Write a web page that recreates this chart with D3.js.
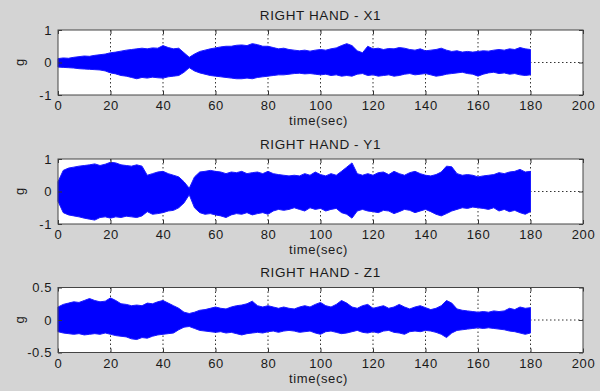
<!DOCTYPE html>
<html>
<head>
<meta charset="utf-8">
<script src="https://cdn.jsdelivr.net/npm/d3@7"></script>
<style>
  html, body { margin: 0; padding: 0; background: #d4d4d4; }
  svg { display: block; font-family: "Liberation Sans", Arial, sans-serif; }
</style>
</head>
<body>
<div id="chart"></div>
<script>
// sample times (sec) for the envelope readings
const times = [
  0, 2, 4, 6, 8, 10, 12, 14, 16, 18,
  20, 22, 24, 26, 28, 30, 32, 34, 36, 38,
  40, 42, 44, 46, 48, 50, 52, 54, 56, 58,
  60, 62, 64, 66, 68, 70, 72, 74, 76, 78,
  80, 82, 84, 86, 88, 90, 92, 94, 96, 98,
  100, 102, 104, 106, 108, 110, 112, 114, 116, 118,
  120, 122, 124, 126, 128, 130, 132, 134, 136, 138,
  140, 142, 144, 146, 148, 150, 152, 154, 156, 158,
  160, 162, 164, 166, 168, 170, 172, 174, 176, 178,
  180
];

// signal envelopes (g)
const x1Upper = [
  0.12, 0.14, 0.13, 0.16, 0.18, 0.20, 0.19, 0.22, 0.24, 0.26,
  0.30, 0.32, 0.35, 0.38, 0.40, 0.42, 0.44, 0.42, 0.45, 0.44,
  0.52, 0.46, 0.42, 0.44, 0.30, 0.16, 0.26, 0.34, 0.38, 0.42,
  0.45, 0.48, 0.50, 0.50, 0.53, 0.54, 0.52, 0.58, 0.55, 0.50,
  0.50, 0.46, 0.42, 0.44, 0.40, 0.38, 0.36, 0.38, 0.35, 0.38,
  0.40, 0.38, 0.42, 0.45, 0.52, 0.58, 0.52, 0.36, 0.30, 0.50,
  0.42, 0.44, 0.40, 0.43, 0.42, 0.46, 0.44, 0.40, 0.38, 0.42,
  0.36, 0.38, 0.40, 0.44, 0.38, 0.34, 0.36, 0.32, 0.34, 0.32,
  0.34, 0.36, 0.35, 0.38, 0.40, 0.38, 0.42, 0.40, 0.46, 0.42,
  0.40
];
const x1Lower = [
  -0.14, -0.15, -0.16, -0.17, -0.19, -0.20, -0.21, -0.22, -0.23, -0.26,
  -0.32, -0.35, -0.40, -0.42, -0.46, -0.50, -0.46, -0.48, -0.45, -0.47,
  -0.48, -0.44, -0.42, -0.40, -0.30, -0.16, -0.26, -0.32, -0.36, -0.40,
  -0.42, -0.44, -0.46, -0.48, -0.50, -0.50, -0.48, -0.50, -0.46, -0.44,
  -0.42, -0.40, -0.38, -0.38, -0.36, -0.34, -0.33, -0.35, -0.34, -0.36,
  -0.38, -0.36, -0.40, -0.38, -0.42, -0.40, -0.42, -0.36, -0.34, -0.40,
  -0.38, -0.42, -0.40, -0.38, -0.42, -0.40, -0.36, -0.34, -0.38, -0.36,
  -0.34, -0.38, -0.42, -0.40, -0.36, -0.34, -0.32, -0.30, -0.34, -0.36,
  -0.42, -0.36, -0.32, -0.30, -0.34, -0.32, -0.36, -0.34, -0.38, -0.40,
  -0.38
];
const y1Upper = [
  0.30, 0.65, 0.72, 0.75, 0.78, 0.80, 0.82, 0.85, 0.80, 0.84,
  0.90, 0.88, 0.82, 0.80, 0.78, 0.82, 0.78, 0.50, 0.55, 0.60,
  0.62, 0.55, 0.50, 0.45, 0.30, 0.10, 0.45, 0.60, 0.62, 0.65,
  0.62, 0.60, 0.55, 0.60, 0.58, 0.62, 0.55, 0.58, 0.60, 0.55,
  0.62, 0.55, 0.52, 0.50, 0.48, 0.50, 0.48, 0.55, 0.50, 0.60,
  0.52, 0.48, 0.55, 0.50, 0.62, 0.75, 0.88, 0.55, 0.50, 0.55,
  0.50, 0.58, 0.60, 0.52, 0.62, 0.55, 0.50, 0.58, 0.62, 0.55,
  0.50, 0.48, 0.52, 0.60, 0.78, 0.76, 0.55, 0.50, 0.52, 0.50,
  0.45, 0.48, 0.50, 0.52, 0.58, 0.55, 0.60, 0.62, 0.68, 0.60,
  0.62
];
const y1Lower = [
  -0.30, -0.65, -0.72, -0.75, -0.78, -0.82, -0.85, -0.88, -0.80, -0.78,
  -0.82, -0.78, -0.80, -0.76, -0.78, -0.80, -0.75, -0.62, -0.70, -0.68,
  -0.65, -0.60, -0.58, -0.50, -0.35, -0.10, -0.50, -0.65, -0.70, -0.68,
  -0.72, -0.75, -0.80, -0.72, -0.68, -0.70, -0.65, -0.72, -0.68, -0.65,
  -0.70, -0.60, -0.55, -0.58, -0.55, -0.50, -0.55, -0.60, -0.50, -0.55,
  -0.52, -0.60, -0.55, -0.52, -0.65, -0.70, -0.82, -0.60, -0.55, -0.60,
  -0.62, -0.65, -0.58, -0.60, -0.68, -0.62, -0.55, -0.58, -0.65, -0.60,
  -0.55, -0.62, -0.70, -0.75, -0.68, -0.60, -0.55, -0.50, -0.52, -0.48,
  -0.50, -0.52, -0.55, -0.50, -0.60, -0.55, -0.62, -0.58, -0.65, -0.70,
  -0.62
];
const z1Upper = [
  0.20, 0.24, 0.26, 0.28, 0.27, 0.30, 0.33, 0.30, 0.28, 0.29,
  0.34, 0.30, 0.25, 0.24, 0.22, 0.23, 0.22, 0.26, 0.25, 0.28,
  0.30, 0.26, 0.22, 0.18, 0.12, 0.10, 0.12, 0.15, 0.16, 0.18,
  0.20, 0.18, 0.17, 0.20, 0.22, 0.23, 0.25, 0.29, 0.22, 0.20,
  0.22, 0.20, 0.18, 0.20, 0.18, 0.17, 0.20, 0.22, 0.20, 0.24,
  0.27, 0.22, 0.20, 0.24, 0.30, 0.26, 0.20, 0.18, 0.22, 0.24,
  0.18, 0.20, 0.22, 0.18, 0.20, 0.24, 0.20, 0.17, 0.20, 0.22,
  0.19, 0.16, 0.18, 0.22, 0.30, 0.26, 0.17, 0.15, 0.14, 0.13,
  0.12, 0.13, 0.12, 0.14, 0.13, 0.14, 0.18, 0.16, 0.20, 0.18,
  0.19
];
const z1Lower = [
  -0.18, -0.20, -0.21, -0.22, -0.21, -0.23, -0.22, -0.21, -0.22, -0.20,
  -0.22, -0.24, -0.25, -0.26, -0.29, -0.30, -0.27, -0.28, -0.25, -0.23,
  -0.22, -0.21, -0.20, -0.15, -0.11, -0.10, -0.13, -0.16, -0.17, -0.18,
  -0.19, -0.18, -0.20, -0.19, -0.21, -0.23, -0.21, -0.20, -0.19, -0.20,
  -0.18, -0.17, -0.19, -0.17, -0.16, -0.17, -0.19, -0.18, -0.17, -0.20,
  -0.22, -0.18, -0.17, -0.19, -0.21, -0.20, -0.18, -0.16, -0.19, -0.20,
  -0.18, -0.20, -0.17, -0.16, -0.19, -0.20, -0.22, -0.18, -0.17, -0.18,
  -0.16, -0.17, -0.19, -0.22, -0.27, -0.20, -0.16, -0.15, -0.14, -0.13,
  -0.12, -0.13, -0.12, -0.13, -0.14, -0.15, -0.17, -0.18, -0.20, -0.22,
  -0.20
];

const titles = ['RIGHT HAND - X1', 'RIGHT HAND - Y1', 'RIGHT HAND - Z1'];
const xTicks = [0, 20, 40, 60, 80, 100, 120, 140, 160, 180, 200];
const yTicksXY = [-1, 0, 1];
const yTicksZ = [-0.5, 0, 0.5];
const xLabel = 'time(sec)';
const yLabel = 'g';

const panels = [
  { title: titles[0], upper: x1Upper, lower: x1Lower, yTicks: yTicksXY, top: 30 },
  { title: titles[1], upper: y1Upper, lower: y1Lower, yTicks: yTicksXY, top: 159 },
  { title: titles[2], upper: z1Upper, lower: z1Lower, yTicks: yTicksZ, top: 287.5 }
];

const width = 600, height = 391;
const left = 58, plotW = 525, plotH = 65;
const textColor = '#1a1a1a';
const fontSize = 13;

const svg = d3.select('#chart')
  .append('svg')
    .attr('width', width)
    .attr('height', height);

svg.append('rect')
  .attr('width', width)
  .attr('height', height)
  .attr('fill', '#d4d4d4');

const x = d3.scaleLinear().domain([0, 200]).range([0, plotW]);

panels.forEach(p => {
  const lim = d3.max(p.yTicks);
  const y = d3.scaleLinear().domain([-lim, lim]).range([plotH, 0]);

  const g = svg.append('g').attr('transform', `translate(${left},${p.top})`);

  g.append('rect')
    .attr('width', plotW)
    .attr('height', plotH)
    .attr('fill', '#fff');

  // dotted grid
  g.selectAll('.vgrid')
    .data(xTicks.slice(1, -1))
    .enter().append('line')
      .attr('x1', d => x(d)).attr('x2', d => x(d))
      .attr('y1', 0).attr('y2', plotH)
      .attr('stroke', '#333')
      .attr('stroke-width', 1)
      .attr('stroke-dasharray', '1.5,2.5');
  g.selectAll('.hgrid')
    .data(p.yTicks.slice(1, -1))
    .enter().append('line')
      .attr('x1', 0).attr('x2', plotW)
      .attr('y1', d => y(d)).attr('y2', d => y(d))
      .attr('stroke', '#333')
      .attr('stroke-width', 1)
      .attr('stroke-dasharray', '1.5,2.5');

  // signal band
  const series = times.map((t, i) => ({ t, hi: p.upper[i], lo: p.lower[i] }));
  const area = d3.area()
    .x(d => x(d.t))
    .y0(d => y(d.lo))
    .y1(d => y(d.hi));
  g.append('path')
    .datum(series)
    .attr('fill', '#0000ff')
    .attr('stroke', '#1a1aff')
    .attr('stroke-width', 1)
    .attr('stroke-linejoin', 'round')
    .attr('d', area);

  // axes, ticks pointing inward
  const styleAxis = sel => {
    sel.select('.domain').remove();
    sel.selectAll('line').attr('stroke', '#333');
    sel.selectAll('text')
      .attr('fill', textColor)
      .style('font-size', fontSize + 'px')
      .style('letter-spacing', '0.6px');
  };

  g.append('g')
    .attr('transform', `translate(0,${plotH})`)
    .call(d3.axisBottom(x).tickValues(xTicks).tickSizeInner(-4).tickSizeOuter(0).tickPadding(6))
    .call(styleAxis);
  g.append('g')
    .call(d3.axisTop(x).tickValues(xTicks).tickSizeInner(-4).tickSizeOuter(0).tickFormat(''))
    .call(styleAxis);
  g.append('g')
    .call(d3.axisLeft(y).tickValues(p.yTicks).tickSizeInner(-4).tickSizeOuter(0).tickPadding(6)
      .tickFormat(d => String(d)))
    .call(styleAxis);
  g.append('g')
    .attr('transform', `translate(${plotW},0)`)
    .call(d3.axisRight(y).tickValues(p.yTicks).tickSizeInner(-4).tickSizeOuter(0).tickFormat(''))
    .call(styleAxis);

  // box
  g.append('rect')
    .attr('width', plotW)
    .attr('height', plotH)
    .attr('fill', 'none')
    .attr('stroke', '#444')
    .attr('stroke-width', 1);

  // title
  g.append('text')
    .attr('x', plotW / 2)
    .attr('y', -10.5)
    .attr('text-anchor', 'middle')
    .attr('fill', textColor)
    .style('font-size', '13.5px')
    .style('letter-spacing', '0.6px')
    .text(p.title);

  // x label
  g.append('text')
    .attr('x', plotW / 2 - 2)
    .attr('y', plotH + 30)
    .attr('text-anchor', 'middle')
    .attr('fill', textColor)
    .style('font-size', fontSize + 'px')
    .style('letter-spacing', '0.6px')
    .text(xLabel);

  // y label
  g.append('text')
    .attr('transform', `translate(${-34},${plotH / 2}) rotate(-90)`)
    .attr('text-anchor', 'middle')
    .attr('fill', textColor)
    .style('font-size', fontSize + 'px')
    .text(yLabel);
});
</script>
</body>
</html>
